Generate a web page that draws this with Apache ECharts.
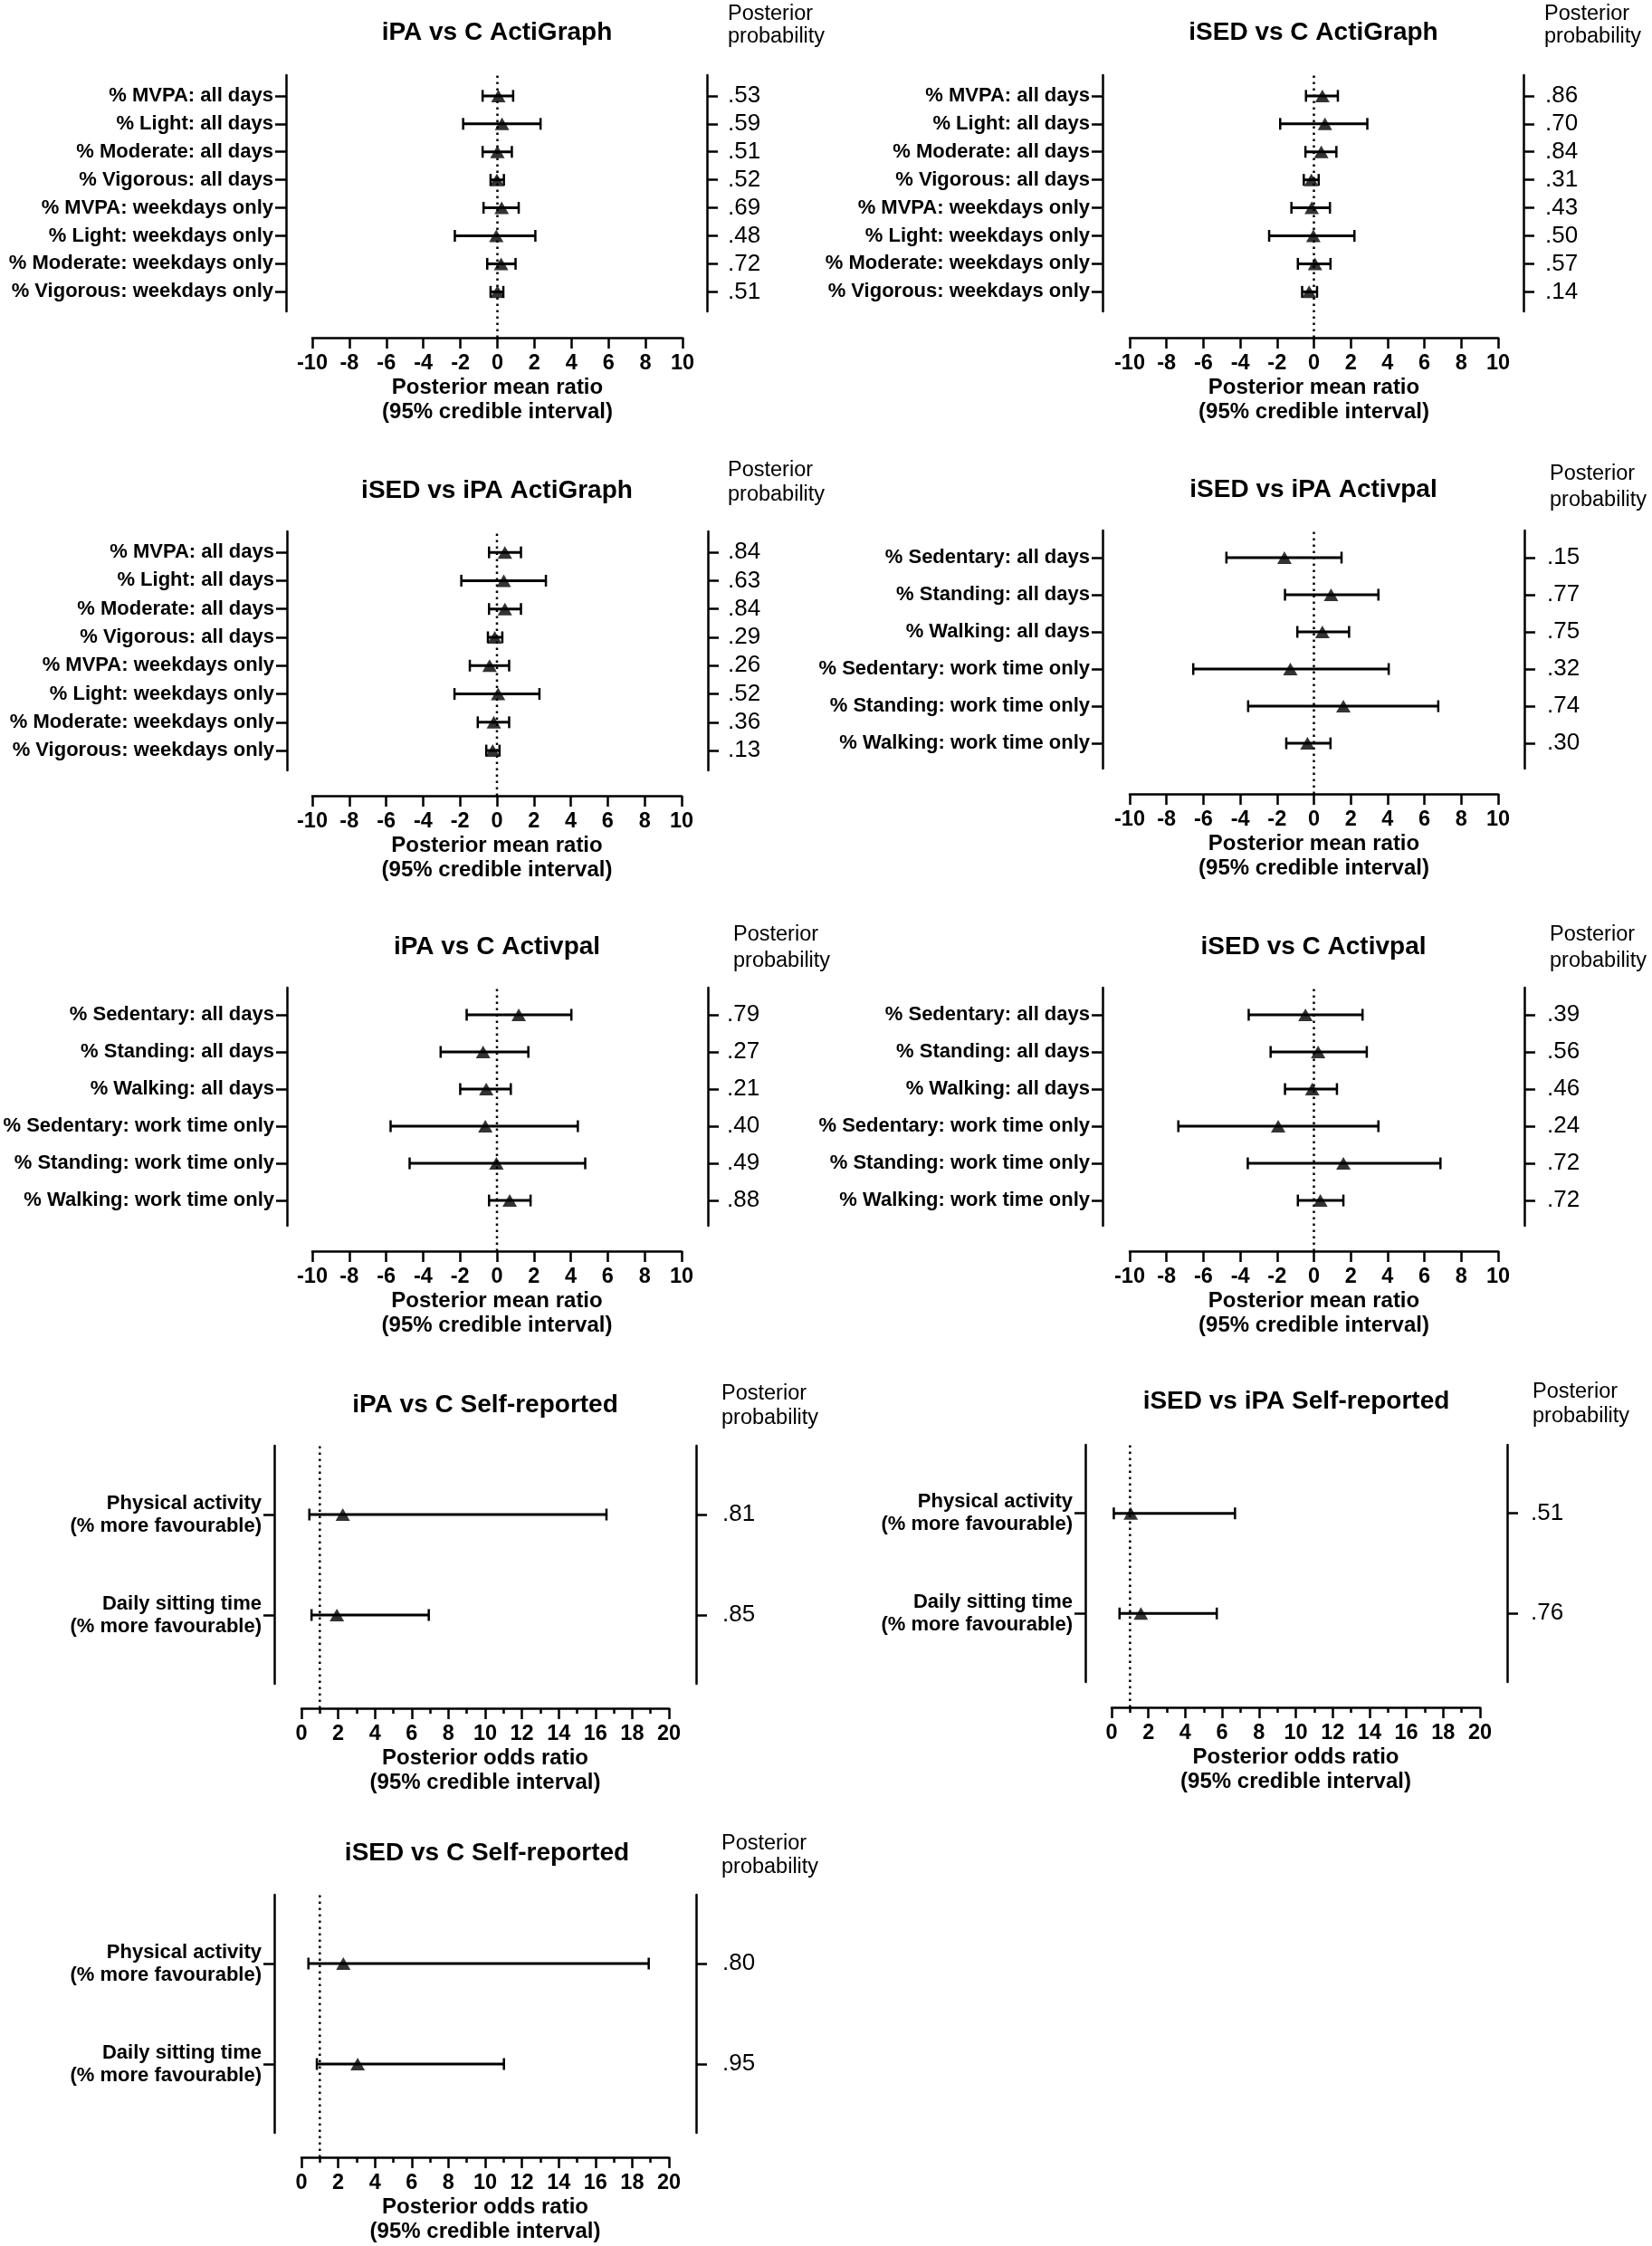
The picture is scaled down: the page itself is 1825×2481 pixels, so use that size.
<!DOCTYPE html>
<html><head><meta charset="utf-8">
<script src="https://cdn.jsdelivr.net/npm/echarts@6/dist/echarts.min.js"></script>
<style>html,body{margin:0;padding:0;background:#fff}#c{width:1825px;height:2481px}</style>
</head><body><div id="c"></div>
<script>
// ---------- DATA ----------
const actiCats = ['% MVPA: all days','% Light: all days','% Moderate: all days','% Vigorous: all days','% MVPA: weekdays only','% Light: weekdays only','% Moderate: weekdays only','% Vigorous: weekdays only'];
const palCats = ['% Sedentary: all days','% Standing: all days','% Walking: all days','% Sedentary: work time only','% Standing: work time only','% Walking: work time only'];
const selfCats = ['Physical activity\n(% more favourable)','Daily sitting time\n(% more favourable)'];

const meanTicks = [-10,-8,-6,-4,-2,0,2,4,6,8,10];
const oddsTicks = [0,2,4,6,8,10,12,14,16,18,20];

// iPA vs C ActiGraph
const p1Mean = [0.05, 0.25, 0.0, -0.03, 0.23, -0.06, 0.2, 0.0];
const p1Lo   = [-0.8, -1.85, -0.8, -0.37, -0.75, -2.3, -0.55, -0.37];
const p1Hi   = [0.85, 2.33, 0.78, 0.35, 1.15, 2.05, 0.98, 0.32];
const p1Prob = ['.53','.59','.51','.52','.69','.48','.72','.51'];
// iSED vs C ActiGraph
const p2Mean = [0.46, 0.6, 0.4, -0.14, -0.12, -0.03, 0.06, -0.26];
const p2Lo   = [-0.43, -1.83, -0.46, -0.55, -1.22, -2.43, -0.87, -0.64];
const p2Hi   = [1.3, 2.9, 1.22, 0.26, 0.87, 2.2, 0.9, 0.17];
const p2Prob = ['.86','.70','.84','.31','.43','.50','.57','.14'];
// iSED vs iPA ActiGraph
const p3Mean = [0.43, 0.37, 0.43, -0.12, -0.4, 0.06, -0.17, -0.23];
const p3Lo   = [-0.43, -1.93, -0.43, -0.49, -1.47, -2.3, -1.04, -0.58];
const p3Hi   = [1.3, 2.65, 1.3, 0.29, 0.66, 2.3, 0.66, 0.14];
const p3Prob = ['.84','.63','.84','.29','.26','.52','.36','.13'];
// iSED vs iPA Activpal
const p4Mean = [-1.6, 0.93, 0.46, -1.28, 1.6, -0.35];
const p4Lo   = [-4.75, -1.57, -0.9, -6.55, -3.57, -1.5];
const p4Hi   = [1.5, 3.5, 1.91, 4.06, 6.75, 0.9];
const p4Prob = ['.15','.77','.75','.32','.74','.30'];
// iPA vs C Activpal
const p5Mean = [1.18, -0.75, -0.58, -0.63, -0.03, 0.69];
const p5Lo   = [-1.64, -3.05, -1.99, -5.76, -4.73, -0.43];
const p5Hi   = [4.03, 1.7, 0.75, 4.38, 4.78, 1.82];
const p5Prob = ['.79','.27','.21','.40','.49','.88'];
// iSED vs C Activpal
const p6Mean = [-0.46, 0.23, -0.09, -1.94, 1.6, 0.35];
const p6Lo   = [-3.54, -2.35, -1.57, -7.36, -3.59, -0.87];
const p6Hi   = [2.64, 2.87, 1.25, 3.5, 6.87, 1.6];
const p6Prob = ['.39','.56','.46','.24','.72','.72'];
// iPA vs C Self-reported
const p7Mean = [2.25, 1.93];
const p7Lo   = [0.43, 0.55];
const p7Hi   = [16.6, 6.93];
const p7Prob = ['.81','.85'];
// iSED vs iPA Self-reported
const p8Mean = [1.04, 1.59];
const p8Lo   = [0.12, 0.43];
const p8Hi   = [6.7, 5.71];
const p8Prob = ['.51','.76'];
// iSED vs C Self-reported
const p9Mean = [2.28, 3.06];
const p9Lo   = [0.38, 0.84];
const p9Hi   = [18.9, 11.02];
const p9Prob = ['.80','.95'];

const panels = [
  {title:'iPA vs C ActiGraph',      cats:actiCats, mean:p1Mean, lo:p1Lo, hi:p1Hi, prob:p1Prob, scale:'mean'},
  {title:'iSED vs C ActiGraph',     cats:actiCats, mean:p2Mean, lo:p2Lo, hi:p2Hi, prob:p2Prob, scale:'mean'},
  {title:'iSED vs iPA ActiGraph',   cats:actiCats, mean:p3Mean, lo:p3Lo, hi:p3Hi, prob:p3Prob, scale:'mean'},
  {title:'iSED vs iPA Activpal',    cats:palCats,  mean:p4Mean, lo:p4Lo, hi:p4Hi, prob:p4Prob, scale:'mean'},
  {title:'iPA vs C Activpal',       cats:palCats,  mean:p5Mean, lo:p5Lo, hi:p5Hi, prob:p5Prob, scale:'mean'},
  {title:'iSED vs C Activpal',      cats:palCats,  mean:p6Mean, lo:p6Lo, hi:p6Hi, prob:p6Prob, scale:'mean'},
  {title:'iPA vs C Self-reported',  cats:selfCats, mean:p7Mean, lo:p7Lo, hi:p7Hi, prob:p7Prob, scale:'odds'},
  {title:'iSED vs iPA Self-reported',cats:selfCats,mean:p8Mean, lo:p8Lo, hi:p8Hi, prob:p8Prob, scale:'odds'},
  {title:'iSED vs C Self-reported', cats:selfCats, mean:p9Mean, lo:p9Lo, hi:p9Hi, prob:p9Prob, scale:'odds'}
];

// ---------- LAYOUT / STYLE ----------
const scales = {
  mean: {ticks: meanTicks, ref: 0, name: 'Posterior mean ratio\n(95% credible interval)', minor: false},
  odds: {ticks: oddsTicks, ref: 1, name: 'Posterior odds ratio\n(95% credible interval)', minor: true}
};
// L/R: y-axis lines, T/B: their extent, X0/X1: first/last x tick, XA: x-axis line y
const layouts = [
  {L:316, R:781, T:83,  B:344, X0:345, X1:754, XA:373, tx:549, ty:36,  px:804, py:[16,41],    vm:23},
  {L:1218,R:1683,T:83,  B:344, X0:1248,X1:1655,XA:373, tx:1451,ty:36,  px:1706,py:[16,41],    vm:24},
  {L:317, R:782, T:587, B:851, X0:345, X1:753, XA:879, tx:549, ty:542, px:804, py:[520,547],  vm:22},
  {L:1218,R:1684,T:586, B:849, X0:1248,X1:1655,XA:877, tx:1451,ty:541, px:1712,py:[524,553],  vm:25},
  {L:317, R:782, T:1091,B:1354,X0:345, X1:753, XA:1382,tx:549, ty:1046,px:810, py:[1033,1062],vm:21},
  {L:1218,R:1684,T:1091,B:1354,X0:1248,X1:1655,XA:1382,tx:1451,ty:1046,px:1712,py:[1033,1062],vm:25},
  {L:303, R:769, T:1597,B:1860,X0:333, X1:739, XA:1887,tx:536, ty:1552,px:797, py:[1540,1567],vm:29},
  {L:1199,R:1665,T:1596,B:1858,X0:1228,X1:1635,XA:1886,tx:1432,ty:1548,px:1693,py:[1538,1565],vm:26},
  {L:303, R:769, T:2093,B:2356,X0:333, X1:739, XA:2383,tx:538, ty:2047,px:797, py:[2037,2063],vm:29}
];
const yRange = {8:[0.26, 8.7], 6:[0.27, 6.68], 2:[0.315, 2.685]};
const FONT = '"Liberation Sans", Arial, Helvetica, sans-serif';
const BLK = '#000';

const grids = [], xAxes = [], yAxes = [], series = [], graphics = [];

panels.forEach((p, k) => {
  const lay = layouts[k];
  const sc = scales[p.scale];
  const tMin = sc.ticks[0], tMax = sc.ticks[sc.ticks.length - 1];
  const unit = (lay.X1 - lay.X0) / (tMax - tMin);
  const xmin = tMin - (lay.X0 - lay.L) / unit;
  const xmax = tMax + (lay.R - lay.X1) / unit;
  const n = p.cats.length;
  const rows = p.cats.map((_, i) => i + 1);
  const yr = yRange[n];
  const gP = grids.length;
  grids.push({left: lay.L, top: lay.T, width: lay.R - lay.L, height: lay.B - lay.T, outerBoundsMode: 'none'});
  const gX = grids.length;
  grids.push({left: lay.X0, top: lay.T, width: lay.X1 - lay.X0, height: lay.XA - lay.T, outerBoundsMode: 'none'});

  const xP = xAxes.length;
  xAxes.push({gridIndex: gP, type: 'value', min: xmin, max: xmax, show: false});
  const xX = xAxes.length;
  xAxes.push({
    gridIndex: gX, type: 'value', position: 'bottom', min: tMin, max: tMax, interval: sc.ticks[1] - sc.ticks[0],
    axisLine: {show: true, lineStyle: {color: BLK, width: 2.5}},
    axisTick: {show: true, inside: false, length: 12, lineStyle: {color: BLK, width: 2.5}},
    minorTick: {show: sc.minor, splitNumber: 2, length: 6, lineStyle: {color: BLK, width: 2.5}},
    splitLine: {show: false}, minorSplitLine: {show: false},
    axisLabel: {show: true, color: BLK, fontFamily: FONT, fontWeight: 'bold', fontSize: 23.5, margin: 17,
                formatter: v => String(v)},
    name: sc.name, nameLocation: 'middle', nameGap: 40,
    nameTextStyle: {color: BLK, fontFamily: FONT, fontWeight: 'bold', fontSize: 24, lineHeight: 27}
  });

  const yL = yAxes.length;
  yAxes.push({
    gridIndex: gP, type: 'value', position: 'left', inverse: true, min: yr[0], max: yr[1],
    axisLine: {show: true, onZero: false, lineStyle: {color: BLK, width: 2.5}},
    axisTick: {show: true, inside: false, length: 12, customValues: rows, lineStyle: {color: BLK, width: 2.5}},
    splitLine: {show: false},
    axisLabel: {show: true, customValues: rows, color: BLK, fontFamily: FONT, fontWeight: 'bold', fontSize: 22,
                lineHeight: 25, margin: 14, align: 'right',
                formatter: v => p.cats[Math.round(v) - 1] || ''}
  });
  const yR = yAxes.length;
  yAxes.push({
    gridIndex: gP, type: 'value', position: 'right', inverse: true, min: yr[0], max: yr[1],
    axisLine: {show: true, onZero: false, lineStyle: {color: BLK, width: 2.5}},
    axisTick: {show: true, inside: false, length: 12, customValues: rows, lineStyle: {color: BLK, width: 2.5}},
    splitLine: {show: false},
    axisLabel: {show: true, customValues: rows, color: BLK, fontFamily: FONT, fontSize: 26, margin: lay.vm, align: 'left',
                formatter: v => p.prob[Math.round(v) - 1] || ''}
  });
  const yX = yAxes.length;
  yAxes.push({gridIndex: gX, type: 'value', min: 0, max: 1, show: false});

  // reference (no-effect) dotted line
  series.push({
    type: 'line', xAxisIndex: xX, yAxisIndex: yX, data: [[sc.ref, 0], [sc.ref, 1]],
    symbol: 'none', silent: true, z: 1, animation: false,
    lineStyle: {color: BLK, width: 2.5, type: [2.5, 4.5]}
  });
  // credible interval bars
  series.push({
    type: 'custom', xAxisIndex: xP, yAxisIndex: yL, z: 3, silent: true,
    data: rows.map((r, i) => [p.lo[i], p.hi[i], r]),
    encode: {x: [0, 1], y: 2},
    renderItem: (params, api) => {
      const a = api.coord([api.value(0), api.value(2)]);
      const b = api.coord([api.value(1), api.value(2)]);
      const h = 6.5;
      const st = {stroke: BLK, lineWidth: 2.5};
      return {type: 'group', children: [
        {type: 'line', shape: {x1: a[0], y1: a[1], x2: b[0], y2: b[1]}, style: {stroke: BLK, lineWidth: 3}},
        {type: 'line', shape: {x1: a[0], y1: a[1] - h, x2: a[0], y2: a[1] + h}, style: st},
        {type: 'line', shape: {x1: b[0], y1: b[1] - h, x2: b[0], y2: b[1] + h}, style: st}
      ]};
    }
  });
  // posterior means
  series.push({
    type: 'scatter', xAxisIndex: xP, yAxisIndex: yL, z: 4, silent: true,
    symbol: 'triangle', symbolSize: [16, 14], itemStyle: {color: BLK},
    data: rows.map((r, i) => [p.mean[i], r])
  });

  graphics.push({type: 'text', x: lay.tx, y: lay.ty, style: {text: p.title, fill: BLK,
    font: 'bold 28px ' + FONT, align: 'center', verticalAlign: 'middle', textAlign: 'center', textVerticalAlign: 'middle'}});
  graphics.push({type: 'text', x: lay.px, y: lay.py[0], style: {text: 'Posterior', fill: BLK,
    font: '23.5px ' + FONT, align: 'left', verticalAlign: 'middle', textAlign: 'left', textVerticalAlign: 'middle'}});
  graphics.push({type: 'text', x: lay.px, y: lay.py[1], style: {text: 'probability', fill: BLK,
    font: '23.5px ' + FONT, align: 'left', verticalAlign: 'middle', textAlign: 'left', textVerticalAlign: 'middle'}});
});

const chart = echarts.init(document.getElementById('c'), null, {renderer: 'canvas'});
chart.setOption({
  backgroundColor: '#fff',
  animation: false,
  textStyle: {fontFamily: FONT, color: BLK},
  grid: grids, xAxis: xAxes, yAxis: yAxes, series: series, graphic: graphics
});
</script>
</body></html>
